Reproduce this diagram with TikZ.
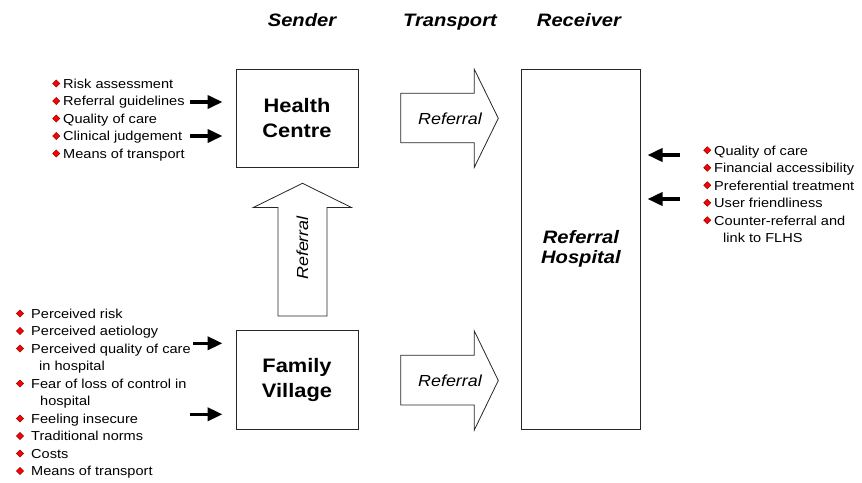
\documentclass[tikz,border=0pt]{standalone}
\usepackage{fontspec}
\setmainfont{Liberation Sans}[FakeStretch=1.12]
\usetikzlibrary{arrows.meta}
\tikzset{
  box/.style={draw=black!85, line width=0.9pt, fill=white, inner sep=0pt},
  item/.style={anchor=base west, inner sep=0pt, font=\fontsize{13}{15.6}\selectfont},
  colhead/.style={anchor=base, inner sep=0pt, font=\fontsize{18}{21}\selectfont\bfseries\itshape},
  boxtext/.style={align=center, font=\fontsize{19.5}{25}\selectfont\bfseries},
  fat/.style={line width=3.6pt, -{Triangle[length=15pt,width=13pt]}},
  blockarrow/.style={draw=black!85, line width=0.8pt, fill=white, line join=miter},
  arrlabel/.style={font=\fontsize{16}{19}\selectfont\itshape, inner sep=0pt},
  pics/bul/.style={code={\path[fill=red, draw=red!45!black, line width=0.4pt]
      (-3.6,0) -- (0,-3.6) -- (3.6,0) -- (0,3.6) -- cycle;}},
}
\begin{document}
\begin{tikzpicture}[x=1pt, y=-1pt]
\useasboundingbox (0,0) rectangle (862,482);

% column headings
\node[colhead] (hsend) at (302,26.7) {Sender};
\node[colhead] (htrans) at (450,26.7) {Transport};
\node[colhead] (hrec) at (579,26.7) {Receiver};

% boxes
\node[box, minimum width=122pt, minimum height=98pt] (hc) at (297,118) {};
\node[boxtext] (hct) at (hc.center) {Health\\Centre};
\node[box, minimum width=122pt, minimum height=99pt] (fv) at (297,380) {};
\node[boxtext] (fvt) at (fv.center) {Family\\Village};
\node[box, minimum width=118.3pt, minimum height=360pt] (rh) at (580.9,249.3) {};
\node[boxtext, font=\fontsize{18}{20}\selectfont\bfseries\itshape] (rht) at (rh.center) {Referral\\Hospital};

% block arrows
\path[blockarrow] (400.7,93.3) -- (474.3,93.3) -- (474.3,69.3) -- (498.3,118.3)
  -- (474.3,167.3) -- (474.3,142.7) -- (400.7,142.7) -- cycle;
\node[arrlabel] (ref1) at (450,118.3) {Referral};
\path[blockarrow] (400.7,355.3) -- (474.3,355.3) -- (474.3,331) -- (498.3,380.5)
  -- (474.3,430) -- (474.3,405) -- (400.7,405) -- cycle;
\node[arrlabel] (ref2) at (450,380.5) {Referral};
\path[blockarrow] (278,316) -- (278,207.5) -- (253.3,207.5) -- (302.5,183.3)
  -- (351.5,207.5) -- (327,207.5) -- (327,316) -- cycle;
\node[arrlabel, rotate=90] (ref3) at (302.5,248) {Referral};

% top-left list
\foreach \t [count=\i] in {Risk assessment, Referral guidelines, Quality of care,
  Clinical judgement, Means of transport} {
  \node[item] (tl\i) at (63,{88.3+17.5*(\i-1)}) {\t};
  \pic at (56.3,{83.5+17.5*(\i-1)}) {bul};
}

% bottom-left list
\node[item] (bl1) at (31,318.3) {Perceived risk};
\node[item] (bl2) at (31,335.8) {Perceived aetiology};
\node[item] (bl3) at (31,353.3) {Perceived quality of care};
\node[item] (bl3b) at (39,370.8) {in hospital};
\node[item] (bl4) at (31,388.3) {Fear of loss of control in};
\node[item] (bl4b) at (40,405.8) {hospital};
\node[item] (bl5) at (31,423.3) {Feeling insecure};
\node[item] (bl6) at (31,440.8) {Traditional norms};
\node[item] (bl7) at (31,458.3) {Costs};
\node[item] (bl8) at (31,475.8) {Means of transport};
\foreach \yy in {318.3,335.8,353.3,388.3,423.3,440.8,458.3,475.8}
  \pic at (20,{\yy-4.8}) {bul};

% right list
\node[item] (rl1) at (714,155) {Quality of care};
\node[item] (rl2) at (714,172.5) {Financial accessibility};
\node[item] (rl3) at (714,190) {Preferential treatment};
\node[item] (rl4) at (714,207.5) {User friendliness};
\node[item] (rl5) at (714,225) {Counter-referral and};
\node[item] (rl5b) at (723,242.5) {link to FLHS};
\foreach \yy in {155,172.5,190,207.5,225}
  \pic at (707.3,{\yy-4.8}) {bul};

% fat arrows
\coordinate (a1) at (190,102);
\coordinate (a2) at (190,136);
\coordinate (a3) at (193,343.3);
\coordinate (a4) at (190,414.3);
\coordinate (a5) at (680,155);
\coordinate (a6) at (680,199);
\draw[fat, shorten >=13pt] (a1) -- (a1 -| hc.west);
\draw[fat, shorten >=13pt] (a2) -- (a2 -| hc.west);
\draw[fat, shorten >=13pt] (a3) -- (a3 -| fv.west);
\draw[fat, shorten >=13pt] (a4) -- (a4 -| fv.west);
\draw[fat, shorten >=7pt] (a5) -- (a5 -| rh.east);
\draw[fat, shorten >=7pt] (a6) -- (a6 -| rh.east);
\end{tikzpicture}
\end{document}
